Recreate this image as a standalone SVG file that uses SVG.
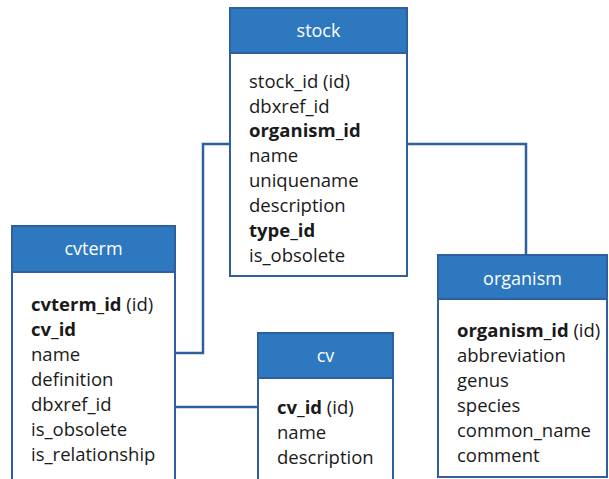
<svg xmlns="http://www.w3.org/2000/svg" width="609" height="479" viewBox="0 0 609 479">
<style>
.box{fill:#ffffff;stroke:#2f5f9e;stroke-width:2}
.hdr{fill:#2e78c0;stroke:#2f5f9e;stroke-width:2}
.title{font-family:"Open Sans","DejaVu Sans",sans-serif;font-size:18px;fill:#ffffff;text-anchor:middle}
.f{font-family:"Open Sans","DejaVu Sans",sans-serif;font-size:18.5px;fill:#1a1a1a}
.b{font-weight:bold}
.conn{fill:none;stroke:#2f5f9e;stroke-width:2.5}
</style>
<rect width="609" height="479" fill="#ffffff"/>
<g id="connectors">
<path class="conn" d="M230,144 H203 V353 H176"/>
<path class="conn" d="M406,144 H526 V255"/>
<path class="conn" d="M176,407 H258"/>
</g>
<g id="stock">
<rect class="box" x="230" y="8" width="177" height="268"/>
<rect class="hdr" x="230" y="8" width="177" height="45"/>
<text class="title" x="318.5" y="37">stock</text>
<text class="f" x="249" y="88">stock_id (id)</text>
<text class="f" x="249" y="113">dbxref_id</text>
<text class="f b" x="249" y="137">organism_id</text>
<text class="f" x="249" y="162">name</text>
<text class="f" x="249" y="187">uniquename</text>
<text class="f" x="249" y="212">description</text>
<text class="f b" x="249" y="237">type_id</text>
<text class="f" x="249" y="262">is_obsolete</text>
</g>
<g id="cvterm">
<rect class="box" x="12" y="226" width="163" height="262"/>
<rect class="hdr" x="12" y="226" width="163" height="46"/>
<text class="title" x="93.5" y="255">cvterm</text>
<text class="f" x="31" y="311"><tspan class="b">cvterm_id</tspan> (id)</text>
<text class="f b" x="31" y="336">cv_id</text>
<text class="f" x="31" y="361">name</text>
<text class="f" x="31" y="386">definition</text>
<text class="f" x="31" y="411">dbxref_id</text>
<text class="f" x="31" y="436">is_obsolete</text>
<text class="f" x="31" y="461">is_relationship</text>
</g>
<g id="cv">
<rect class="box" x="258" y="333" width="135" height="155"/>
<rect class="hdr" x="258" y="333" width="135" height="45"/>
<text class="title" x="325.5" y="362">cv</text>
<text class="f" x="277" y="414"><tspan class="b">cv_id</tspan> (id)</text>
<text class="f" x="277" y="439">name</text>
<text class="f" x="277" y="464">description</text>
</g>
<g id="organism">
<rect class="box" x="438" y="255" width="169" height="222"/>
<rect class="hdr" x="438" y="255" width="169" height="44"/>
<text class="title" x="522.5" y="285">organism</text>
<text class="f" x="457" y="337"><tspan class="b">organism_id</tspan> (id)</text>
<text class="f" x="457" y="362">abbreviation</text>
<text class="f" x="457" y="387">genus</text>
<text class="f" x="457" y="412">species</text>
<text class="f" x="457" y="437">common_name</text>
<text class="f" x="457" y="462">comment</text>
</g>
</svg>
